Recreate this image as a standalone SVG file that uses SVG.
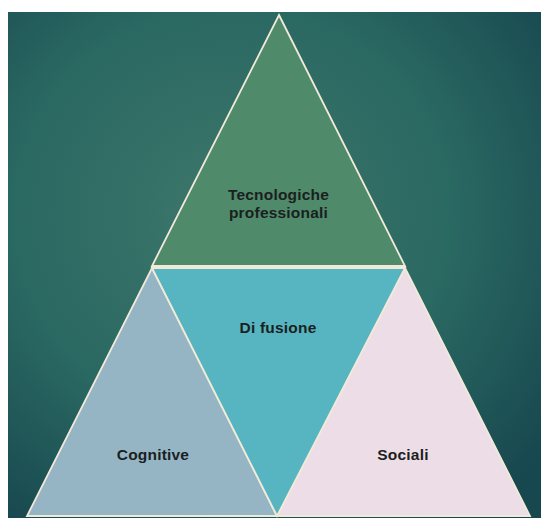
<svg xmlns="http://www.w3.org/2000/svg" width="541" height="518" viewBox="0 0 541 518">
  <defs>
    <radialGradient id="bg" cx="0.42" cy="0.4" r="0.75">
      <stop offset="0" stop-color="#3e776b"/>
      <stop offset="0.55" stop-color="#2a6862"/>
      <stop offset="1" stop-color="#17474f"/>
    </radialGradient>
  </defs>
  <style>
    .tri { stroke: #f2ead9; stroke-width: 1.8; stroke-linejoin: miter; }
    .lbl { font-family: "Liberation Sans", Arial, sans-serif; font-weight: bold; font-size: 15.5px; fill: #1b1f1f; text-anchor: middle; letter-spacing: 0.2px; }
  </style>
  <rect x="0" y="0" width="541" height="518" fill="#ffffff"/>
  <rect x="8" y="12" width="533" height="506" fill="url(#bg)"/>
  <g id="connectors"></g>
  <g id="node-cognitive">
    <polygon class="tri" points="152,268 277,516 27,516" fill="#95b5c4"/>
    <text class="lbl" x="153" y="460">Cognitive</text>
  </g>
  <g id="node-sociali">
    <polygon class="tri" points="405,268 530,516 277,516" fill="#ecdde7"/>
    <text class="lbl" x="403" y="460">Sociali</text>
  </g>
  <g id="node-difusione">
    <polygon class="tri" points="152,268 405,268 277,516" fill="#56b5c0"/>
    <text class="lbl" x="278" y="333">Di fusione</text>
  </g>
  <g id="node-tecnologiche">
    <polygon class="tri" points="279,15 405,266 152,266" fill="#4f8a6b"/>
    <text class="lbl" x="278.5" y="200">Tecnologiche</text>
    <text class="lbl" x="278.5" y="217.5">professionali</text>
  </g>
</svg>
